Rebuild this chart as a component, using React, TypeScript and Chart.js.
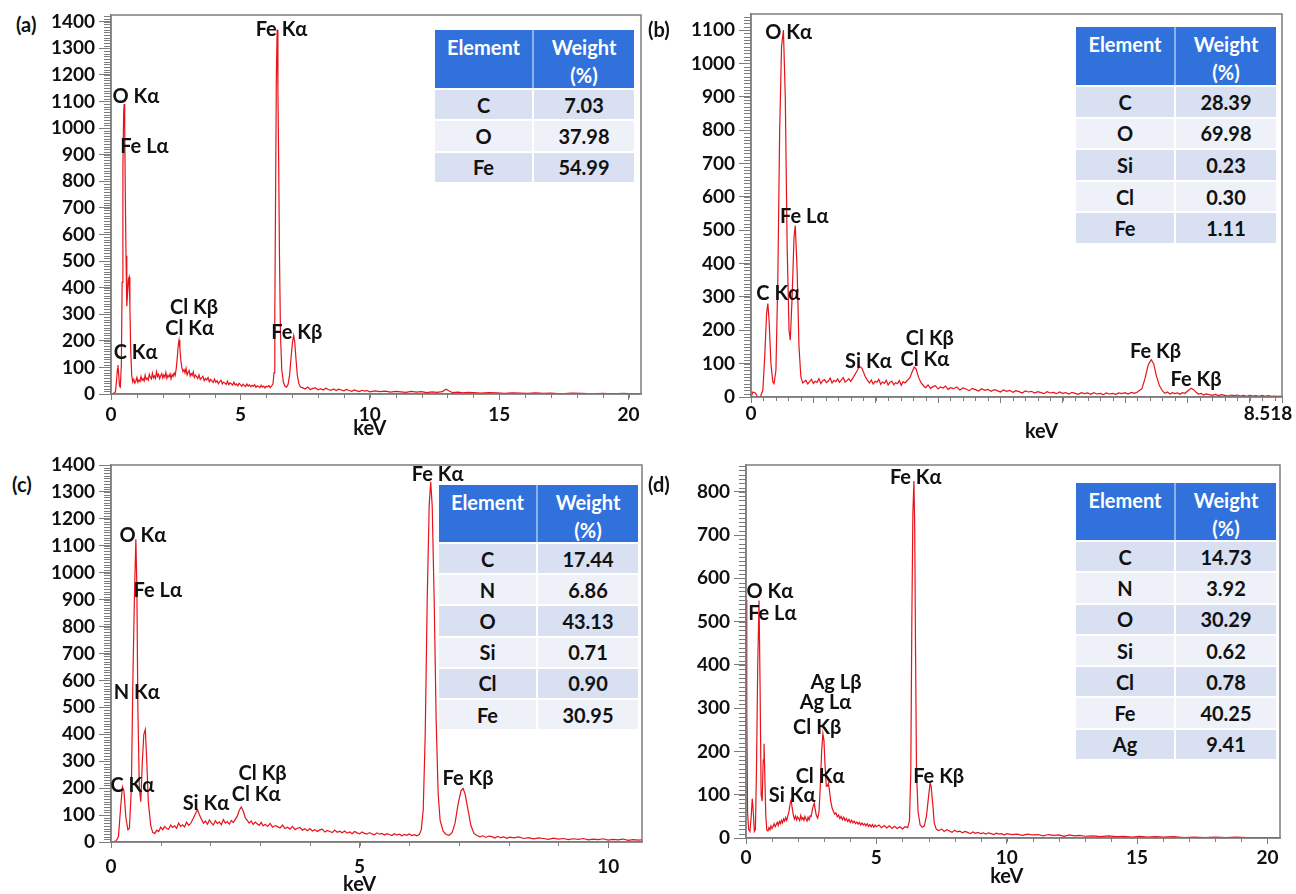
import React, { useEffect, useRef } from "react";
import { Chart, registerables } from "chart.js";

Chart.register(...registerables);

const FONT = "Lato, 'Open Sans', 'DejaVu Sans', sans-serif";
const LINE_RED = "#e8121a";
const AXIS_GRAY = "#7d7d7d";
const HEADER_BLUE = "#3171db";
const ROW_DARK = "#d9e0f1";
const ROW_LIGHT = "#eef1f8";

// ---------------- spectra (keV, counts) ----------------
const spectrumA: [number, number][] = [
  [0,0],[0.1,2],[0.17,8],[0.21,45],[0.25,95],[0.27,109],[0.3,70],[0.33,30],[0.36,26],[0.4,110],[0.43,420],[0.46,850],[0.49,1060],[0.51,1090],[0.53,1000],[0.55,780],[0.58,520],[0.61,330],[0.64,380],[0.67,430],[0.7,440],[0.73,330],[0.76,170],[0.8,70],[0.84,45],
  [0.88,55],[0.92,41],[0.96,48],[1.0,62],[1.04,44],[1.08,53],[1.12,47],[1.16,66],[1.2,51],[1.24,58],[1.28,49],[1.32,71],[1.36,55],[1.4,60],[1.44,52],[1.48,74],[1.52,63],[1.56,57],[1.6,78],[1.64,61],[1.68,68],[1.72,59],[1.76,84],[1.8,66],[1.84,74],[1.88,58],[1.92,69],[1.96,77],[2.0,60],[2.04,72],[2.08,63],[2.12,81],[2.16,59],[2.2,70],[2.24,64],[2.28,76],[2.32,57],[2.36,73],[2.4,66],[2.44,79],[2.48,70],
  [2.52,95],[2.56,135],[2.6,185],[2.63,203],[2.66,175],[2.7,125],
  [2.74,98],[2.78,84],[2.82,92],[2.86,79],[2.9,96],[2.94,72],[2.98,81],[3.02,88],[3.06,68],[3.1,77],[3.14,70],[3.18,83],[3.22,62],[3.26,71],[3.3,66],[3.35,58],[3.4,72],[3.45,55],[3.5,61],[3.55,67],[3.6,50],[3.65,58],[3.7,53],[3.75,62],[3.8,46],[3.85,55],[3.9,49],[3.95,43],[4.0,56],[4.05,44],[4.1,50],[4.15,39],[4.2,47],[4.25,52],[4.3,38],[4.35,45],[4.4,41],[4.45,36],[4.5,48],[4.55,35],[4.6,42],[4.65,39],[4.7,33],[4.75,44],[4.8,34],[4.85,38],[4.9,31],[4.95,40],[5.0,35],[5.05,29],[5.1,37],[5.15,32],[5.2,28],[5.25,38],[5.3,30],[5.35,34],[5.4,27],[5.45,33],[5.5,29],[5.55,35],[5.6,25],[5.65,31],[5.7,28],[5.75,24],[5.8,33],[5.85,26],[5.9,30],[5.95,23],[6.0,29],[6.05,27],[6.1,32],[6.15,24],[6.2,30],
  [6.26,38],[6.3,80],[6.33,300],[6.36,750],[6.39,1200],[6.42,1370],[6.45,1150],[6.48,860],[6.51,520],[6.55,220],[6.6,90],[6.66,45],[6.72,30],[6.78,26],[6.84,35],[6.9,70],[6.96,140],[7.02,200],[7.06,220],[7.1,195],[7.15,130],[7.2,70],[7.26,38],[7.32,26],
  [7.4,24],[7.5,19],[7.6,26],[7.7,17],[7.8,21],[7.9,23],[8.0,16],[8.1,20],[8.2,15],[8.3,22],[8.4,17],[8.5,14],[8.6,19],[8.7,13],[8.8,18],[8.9,15],[9.0,12],[9.1,17],[9.2,13],[9.3,10],[9.4,15],[9.5,12],[9.6,9],[9.7,14],[9.8,11],[9.9,13],[10.0,8],[10.2,12],[10.4,9],[10.6,11],[10.8,7],[11.0,10],[11.2,8],[11.4,6],[11.6,10],[11.8,7],[12.0,9],[12.2,5],[12.4,8],[12.6,6],[12.8,9],[12.95,18],[13.05,12],[13.2,5],[13.4,7],[13.6,4],[13.8,6],[14.0,5],[14.3,3],[14.6,5],[14.9,4],[15.2,2],[15.5,4],[15.8,3],[16.1,2],[16.4,4],[16.7,2],[17.0,3],[17.4,1],[17.8,3],[18.2,2],[18.6,1],[19.0,2],[19.4,1],[19.8,2],[20.2,1],[20.48,1],
];

const spectrumB: [number, number][] = [
  [0,0],[0.03,15],[0.07,12],[0.1,2],[0.15,0],[0.19,20],[0.22,120],[0.25,250],[0.27,280],[0.29,230],[0.32,100],[0.35,45],[0.37,40],[0.4,80],[0.43,350],[0.46,800],[0.49,1050],[0.52,1100],[0.55,900],[0.58,450],[0.61,200],[0.63,170],[0.66,300],[0.69,480],[0.71,514],[0.74,380],[0.77,150],[0.8,60],[0.83,42],
  [0.88,50],[0.91,39],[0.94,46],[0.97,53],[1.0,41],[1.03,47],[1.06,44],[1.09,55],[1.12,40],[1.15,49],[1.18,52],[1.21,43],[1.24,48],[1.27,57],[1.3,42],[1.33,50],[1.36,46],[1.39,54],[1.42,44],[1.45,51],[1.48,58],[1.51,45],[1.54,49],[1.57,55],[1.6,47],[1.65,62],[1.7,78],[1.74,92],[1.78,86],[1.83,62],[1.87,50],[1.9,42],[1.93,51],[1.96,39],[1.99,47],[2.02,44],[2.05,53],[2.08,38],[2.11,45],[2.14,41],[2.17,50],[2.2,36],[2.23,44],[2.26,47],[2.29,37],[2.32,43],[2.35,40],[2.38,49],[2.41,35],[2.44,46],[2.47,42],[2.5,48],[2.55,58],[2.59,78],[2.62,90],[2.65,84],[2.69,58],[2.73,42],
  [2.77,33],[2.8,28],[2.84,36],[2.88,26],[2.92,31],[2.96,34],[3.0,24],[3.04,30],[3.08,27],[3.12,33],[3.16,23],[3.2,28],[3.25,25],[3.3,30],[3.35,21],[3.4,27],[3.45,24],[3.5,19],[3.55,26],[3.6,22],[3.65,18],[3.7,25],[3.75,20],[3.8,23],[3.85,17],[3.9,22],[3.95,19],[4.0,15],[4.05,21],[4.1,17],[4.15,20],[4.2,14],[4.25,19],[4.3,16],[4.35,12],[4.4,18],[4.45,15],[4.5,17],[4.55,12],[4.6,16],[4.65,13],[4.7,10],[4.75,16],[4.8,12],[4.85,14],[4.9,10],[4.95,15],[5.0,11],[5.05,13],[5.1,9],[5.15,14],[5.2,11],[5.25,8],[5.3,13],[5.35,10],[5.4,12],[5.45,8],[5.5,13],[5.55,9],[5.6,11],[5.65,7],[5.7,12],[5.75,9],[5.8,11],[5.85,8],[5.9,12],[5.95,10],[6.0,13],[6.05,9],[6.1,14],[6.15,11],[6.2,15],
  [6.27,25],[6.32,55],[6.37,95],[6.42,112],[6.46,100],[6.5,65],[6.55,35],
  [6.6,18],[6.64,11],[6.68,15],[6.72,9],[6.76,13],[6.8,10],[6.84,12],[6.88,8],[6.92,13],[6.96,11],[7.0,17],[7.06,26],[7.1,22],[7.14,14],[7.18,9],[7.22,11],[7.26,6],[7.3,9],[7.35,7],[7.4,5],[7.45,8],[7.5,4],[7.55,7],[7.6,5],[7.65,3],[7.7,6],[7.75,4],[7.8,6],[7.85,3],[7.9,5],[7.95,2],[8.0,5],[8.05,3],[8.1,4],[8.15,2],[8.2,5],[8.25,2],[8.3,4],[8.35,2],[8.4,3],[8.45,2],[8.518,3],
];

const spectrumC: [number, number][] = [
  [0,0],[0.1,3],[0.15,20],[0.19,120],[0.23,205],[0.26,190],[0.3,90],[0.34,45],[0.37,50],[0.41,200],[0.44,600],[0.47,900],[0.5,1124],[0.52,950],[0.54,500],[0.57,200],[0.6,150],[0.63,300],[0.66,400],[0.69,418],[0.72,300],[0.75,150],[0.8,60],[0.84,35],
  [0.88,32],[0.92,44],[0.96,39],[1.0,55],[1.04,46],[1.08,58],[1.12,50],[1.16,47],[1.2,63],[1.24,54],[1.28,60],[1.32,51],[1.36,70],[1.4,58],[1.44,64],[1.48,56],[1.52,74],[1.56,62],[1.6,68],[1.65,86],[1.7,106],[1.74,120],[1.78,100],[1.82,84],[1.86,70],[1.9,78],[1.94,66],[1.98,82],[2.02,71],[2.06,63],[2.1,79],[2.14,68],[2.18,75],[2.22,64],[2.26,83],[2.3,70],[2.34,76],[2.38,66],[2.42,80],[2.46,72],[2.5,84],[2.54,96],[2.58,118],[2.62,130],[2.66,115],[2.7,90],
  [2.74,80],[2.78,70],[2.82,78],[2.86,65],[2.9,74],[2.94,68],[2.98,62],[3.02,73],[3.06,60],[3.1,66],[3.15,58],[3.2,69],[3.25,55],[3.3,61],[3.35,57],[3.4,52],[3.45,63],[3.5,50],[3.55,55],[3.6,48],[3.65,58],[3.7,46],[3.75,51],[3.8,54],[3.85,44],[3.9,49],[3.95,42],[4.0,50],[4.05,41],[4.1,46],[4.15,39],[4.2,45],[4.25,48],[4.3,37],[4.35,43],[4.4,39],[4.45,35],[4.5,44],[4.55,36],[4.6,40],[4.65,34],[4.7,41],[4.75,33],[4.8,37],[4.85,31],[4.9,39],[4.95,34],[5.0,30],[5.05,37],[5.1,32],[5.15,29],[5.2,35],[5.25,30],[5.3,27],[5.35,34],[5.4,29],[5.45,32],[5.5,26],[5.55,31],[5.6,28],[5.65,24],[5.7,31],[5.75,26],[5.8,29],[5.85,23],[5.9,28],[5.95,25],[6.0,30],[6.05,24],[6.1,27],[6.15,23],[6.2,28],
  [6.24,45],[6.28,120],[6.32,400],[6.36,900],[6.4,1250],[6.43,1338],[6.46,1250],[6.5,900],[6.54,450],[6.58,180],[6.62,80],[6.68,40],[6.74,28],[6.8,25],[6.86,35],[6.92,70],[6.98,140],[7.04,190],[7.08,199],[7.12,180],[7.18,120],[7.24,60],[7.3,32],
  [7.36,24],[7.42,19],[7.48,23],[7.54,17],[7.6,22],[7.66,20],[7.72,15],[7.78,21],[7.84,16],[7.9,19],[7.96,14],[8.02,18],[8.1,15],[8.2,19],[8.3,13],[8.4,16],[8.5,12],[8.6,15],[8.7,13],[8.8,10],[8.9,14],[9.0,11],[9.1,13],[9.2,9],[9.3,12],[9.4,10],[9.5,13],[9.6,8],[9.7,11],[9.8,9],[9.9,12],[10.0,7],[10.1,10],[10.2,8],[10.3,11],[10.4,6],[10.5,9],[10.6,7],[10.68,8],
];

const spectrumD: [number, number][] = [
  [0,550],[0.03,300],[0.06,60],[0.1,20],[0.15,15],[0.2,50],[0.24,91],[0.28,60],[0.32,15],[0.36,20],[0.4,150],[0.45,400],[0.5,549],[0.54,350],[0.58,100],[0.62,85],[0.66,180],[0.69,218],[0.72,150],[0.76,50],[0.8,18],
  [0.84,16],[0.88,24],[0.92,19],[0.96,28],[1.0,22],[1.04,27],[1.08,33],[1.12,26],[1.16,31],[1.2,36],[1.24,29],[1.28,38],[1.32,33],[1.36,41],[1.4,35],[1.44,44],[1.48,39],[1.52,47],[1.56,41],[1.6,50],[1.65,62],[1.7,82],[1.73,88],[1.77,70],[1.82,52],[1.86,44],[1.9,51],[1.94,42],[1.98,49],[2.02,45],[2.06,40],[2.1,52],[2.14,43],[2.18,47],[2.22,41],[2.26,50],[2.3,44],[2.34,39],[2.38,48],[2.42,42],[2.46,51],[2.5,50],[2.54,64],[2.58,74],[2.62,80],[2.66,64],[2.7,52],[2.75,46],
  [2.8,60],[2.85,120],[2.9,200],[2.95,241],[2.99,225],[3.03,170],[3.08,120],[3.12,120],[3.16,126],[3.2,110],[3.25,85],[3.3,70],
  [3.35,62],[3.4,55],[3.45,58],[3.5,49],[3.55,53],[3.6,45],[3.65,50],[3.7,42],[3.75,48],[3.8,40],[3.85,45],[3.9,38],[3.95,43],[4.0,36],[4.05,41],[4.1,35],[4.15,39],[4.2,33],[4.25,37],[4.3,32],[4.35,36],[4.4,30],[4.45,35],[4.5,30],[4.55,33],[4.6,28],[4.65,33],[4.7,27],[4.75,31],[4.8,26],[4.85,31],[4.9,25],[4.95,30],[5.0,26],[5.1,30],[5.2,24],[5.3,29],[5.4,23],[5.5,28],[5.6,22],[5.7,27],[5.8,22],[5.9,26],[6.0,21],[6.1,26],[6.2,24],
  [6.27,40],[6.32,150],[6.36,500],[6.4,750],[6.44,825],[6.47,720],[6.5,450],[6.54,150],[6.6,60],[6.68,30],[6.76,25],[6.84,28],[6.92,50],[7.0,95],[7.06,126],[7.1,120],[7.16,80],[7.22,35],
  [7.3,20],[7.4,17],[7.5,21],[7.6,15],[7.7,19],[7.8,16],[7.9,13],[8.0,18],[8.1,14],[8.2,16],[8.3,12],[8.4,15],[8.5,13],[8.6,10],[8.7,14],[8.8,11],[8.9,13],[9.0,10],[9.1,12],[9.2,9],[9.3,12],[9.4,10],[9.5,8],[9.6,11],[9.7,9],[9.8,10],[9.9,7],[10.0,10],[10.2,8],[10.4,9],[10.6,6],[10.8,9],[11.0,7],[11.2,8],[11.4,5],[11.6,8],[11.8,6],[12.0,7],[12.2,4],[12.4,7],[12.6,5],[12.8,6],[13.0,4],[13.3,5],[13.6,3],[13.9,5],[14.2,3],[14.5,4],[14.8,2],[15.1,4],[15.4,2],[15.7,3],[16.0,2],[16.4,3],[16.8,1],[17.2,2],[17.6,1],[18.0,2],[18.4,1],[18.8,2],[19.2,1],[19.6,1],[20.0,1],[20.48,1],
];

// ---------------- peak labels (anchor in keV, counts) ----------------
const peakLabelsA = [
  { text: "Fe Kα", x: 6.59, y: 1372 },
  { text: "O Kα", x: 0.96, y: 1118 },
  { text: "Fe Lα", x: 1.29, y: 930 },
  { text: "Cl Kβ", x: 3.21, y: 324 },
  { text: "Cl Kα", x: 3.04, y: 247 },
  { text: "Fe Kβ", x: 7.18, y: 232 },
  { text: "C Kα", x: 0.95, y: 154 },
];
const peakLabelsB = [
  { text: "O Kα", x: 0.605, y: 1091 },
  { text: "Fe Lα", x: 0.854, y: 541 },
  { text: "C Kα", x: 0.437, y: 309 },
  { text: "Si Kα", x: 1.883, y: 107 },
  { text: "Cl Kβ", x: 2.87, y: 175 },
  { text: "Cl Kα", x: 2.79, y: 112 },
  { text: "Fe Kβ", x: 6.49, y: 135 },
  { text: "Fe Kβ", x: 7.14, y: 53 },
];
const peakLabelsC = [
  { text: "Fe Kα", x: 6.57, y: 1366 },
  { text: "O Kα", x: 0.64, y: 1139 },
  { text: "Fe Lα", x: 0.94, y: 932 },
  { text: "N Kα", x: 0.52, y: 556 },
  { text: "C Kα", x: 0.43, y: 211 },
  { text: "Si Kα", x: 1.91, y: 143 },
  { text: "Cl Kβ", x: 3.05, y: 255 },
  { text: "Cl Kα", x: 2.92, y: 176 },
  { text: "Fe Kβ", x: 7.18, y: 234 },
];
const peakLabelsD = [
  { text: "Fe Kα", x: 6.51, y: 833 },
  { text: "O Kα", x: 0.92, y: 569 },
  { text: "Fe Lα", x: 1.01, y: 519 },
  { text: "Ag Lβ", x: 3.45, y: 359 },
  { text: "Ag Lα", x: 3.05, y: 313 },
  { text: "Cl Kβ", x: 2.73, y: 255 },
  { text: "Cl Kα", x: 2.84, y: 143 },
  { text: "Si Kα", x: 1.77, y: 99 },
  { text: "Fe Kβ", x: 7.39, y: 143 },
];

// ---------------- tick values ----------------
const xTicksA = [0, 5, 10, 15, 20];
const xTicksB = [0, 1, 2, 3, 4, 5, 6, 7, 8];
const xTickLabelsB = [0, 8.518];
const xTicksC = [0, 5, 10];
const xTicksD = [0, 5, 10, 15, 20];
const yTicksA = [0, 100, 200, 300, 400, 500, 600, 700, 800, 900, 1000, 1100, 1200, 1300, 1400];
const yTicksB = [0, 100, 200, 300, 400, 500, 600, 700, 800, 900, 1000, 1100];
const yTicksC = [0, 100, 200, 300, 400, 500, 600, 700, 800, 900, 1000, 1100, 1200, 1300, 1400];
const yTicksD = [0, 100, 200, 300, 400, 500, 600, 700, 800];

// ---------------- composition tables ----------------
const elementsA = ["C", "O", "Fe"];
const weightsA = ["7.03", "37.98", "54.99"];
const elementsB = ["C", "O", "Si", "Cl", "Fe"];
const weightsB = ["28.39", "69.98", "0.23", "0.30", "1.11"];
const elementsC = ["C", "N", "O", "Si", "Cl", "Fe"];
const weightsC = ["17.44", "6.86", "43.13", "0.71", "0.90", "30.95"];
const elementsD = ["C", "N", "O", "Si", "Cl", "Fe", "Ag"];
const weightsD = ["14.73", "3.92", "30.29", "0.62", "0.78", "40.25", "9.41"];

// ---------------- layout ----------------
const Y_W = 70;
const PAD_T = 12;
const PAD_R = 14;
const X_H = 58;

const panels = [
  {
    tag: "(a)", tagPos: { left: 16, top: 12 },
    spectrum: spectrumA, labels: peakLabelsA,
    xMax: 20.48, yMax: 1425, xTicks: xTicksA, yTicks: yTicksA, builtinXLabels: true, customXLabels: [] as any[],
    xMinor: 1, yMinor: 10, titleX: 10, titleDy: 35, xPad: 3,
    box: { l: 111, t: 15, r: 641, b: 394 },
    table: { elements: elementsA, weights: weightsA, left: 435, top: 30, width: 199, split: 99, headerH: 58, rowH: 31.3 },
  },
  {
    tag: "(b)", tagPos: { left: 648, top: 17 },
    spectrum: spectrumB, labels: peakLabelsB,
    xMax: 8.518, yMax: 1148, xTicks: xTicksB.concat([8.518]), yTicks: yTicksB, builtinXLabels: false,
    customXLabels: xTickLabelsB.map((v, i) => ({ v, text: String(v), dx: i === 1 ? -14 : 0 })),
    xMinor: 0.2, yMinor: 10, titleX: 4.66, titleDy: 35, xPad: 3,
    box: { l: 751, t: 14, r: 1282, b: 397 },
    table: { elements: elementsB, weights: weightsB, left: 1076, top: 27, width: 200, split: 100, headerH: 58, rowH: 31.6 },
  },
  {
    tag: "(c)", tagPos: { left: 12, top: 472 },
    spectrum: spectrumC, labels: peakLabelsC,
    xMax: 10.68, yMax: 1400, xTicks: xTicksC, yTicks: yTicksC, builtinXLabels: true, customXLabels: [] as any[],
    xMinor: 1, yMinor: 10, titleX: 5, titleDy: 43, xPad: 7,
    box: { l: 111, t: 465, r: 642, b: 842 },
    table: { elements: elementsC, weights: weightsC, left: 439, top: 485, width: 199, split: 99, headerH: 57, rowH: 31.2 },
  },
  {
    tag: "(d)", tagPos: { left: 648, top: 472 },
    spectrum: spectrumD, labels: peakLabelsD,
    xMax: 20.48, yMax: 862, xTicks: xTicksD, yTicks: yTicksD, builtinXLabels: true, customXLabels: [] as any[],
    xMinor: 1, yMinor: 10, titleX: 10, titleDy: 39, xPad: 2,
    box: { l: 746, t: 465, r: 1280, b: 838 },
    table: { elements: elementsD, weights: weightsD, left: 1076, top: 483, width: 200, split: 100, headerH: 57, rowH: 31.3 },
  },
];

function makeDecor(p: any) {
  return {
    id: "decor",
    afterDraw(chart: any) {
      const { ctx, chartArea } = chart;
      const { left, right, top, bottom } = chartArea;
      const xs = chart.scales.x;
      const ys = chart.scales.y;
      ctx.save();
      // minor ticks
      ctx.strokeStyle = AXIS_GRAY;
      ctx.lineWidth = 1;
      ctx.beginPath();
      const ny = Math.floor(p.yMax / p.yMinor + 1e-6);
      for (let i = 0; i <= ny; i++) {
        const py = Math.round(ys.getPixelForValue(i * p.yMinor)) + 0.5;
        ctx.moveTo(left - 7, py);
        ctx.lineTo(left, py);
      }
      const nx = Math.floor(p.xMax / p.xMinor + 1e-6);
      for (let i = 0; i <= nx; i++) {
        const px = Math.round(xs.getPixelForValue(i * p.xMinor)) + 0.5;
        ctx.moveTo(px, bottom);
        ctx.lineTo(px, bottom + 4);
      }
      ctx.stroke();
      // frame
      ctx.lineWidth = 1.5;
      ctx.strokeRect(left, top, right - left, bottom - top);
      // peak labels
      ctx.fillStyle = "#111";
      ctx.font = `bold 20px ${FONT}`;
      ctx.textAlign = "center";
      ctx.textBaseline = "middle";
      for (const l of p.labels) {
        ctx.fillText(l.text, xs.getPixelForValue(l.x), ys.getPixelForValue(l.y));
      }
      // custom tick labels
      ctx.font = `bold 19px ${FONT}`;
      for (const c of p.customXLabels) {
        ctx.fillText(c.text, xs.getPixelForValue(c.v) + c.dx, bottom + 17);
      }
      // axis title
      ctx.font = `bold 20px ${FONT}`;
      ctx.fillText("keV", xs.getPixelForValue(p.titleX), bottom + p.titleDy);
      ctx.restore();
    },
  };
}

function SpectrumPanel({ p }: { p: any }) {
  const ref = useRef<HTMLCanvasElement>(null);
  const w = p.box.r - p.box.l + Y_W + PAD_R;
  const h = p.box.b - p.box.t + PAD_T + X_H;
  useEffect(() => {
    const tickFont = { family: FONT, size: 19, weight: "bold" as const };
    const chart = new Chart(ref.current as HTMLCanvasElement, {
      type: "line",
      data: {
        datasets: [
          {
            data: p.spectrum.map(([x, y]: [number, number]) => ({ x, y })),
            borderColor: LINE_RED,
            borderWidth: 1.2,
            pointRadius: 0,
            tension: 0,
            fill: false,
          },
        ],
      },
      options: {
        animation: false,
        responsive: false,
        maintainAspectRatio: false,
        devicePixelRatio: 1,
        layout: { padding: { top: PAD_T, right: PAD_R, left: 0, bottom: 0 } },
        plugins: { legend: { display: false }, tooltip: { enabled: false } },
        scales: {
          x: {
            type: "linear",
            min: 0,
            max: p.xMax,
            afterBuildTicks: (s: any) => {
              s.ticks = p.xTicks.map((v: number) => ({ value: v }));
            },
            afterFit: (s: any) => {
              s.height = X_H;
              s.paddingLeft = 0;
              s.paddingRight = 0;
            },
            ticks: {
              autoSkip: false,
              maxRotation: 0,
              padding: p.xPad,
              font: tickFont,
              color: "#111",
              callback: (v: any) => (p.builtinXLabels ? String(v) : ""),
            },
            grid: { drawOnChartArea: false, drawTicks: true, tickLength: 6, color: AXIS_GRAY },
            border: { display: true, color: AXIS_GRAY, width: 1.5 },
          },
          y: {
            type: "linear",
            min: 0,
            max: p.yMax,
            afterBuildTicks: (s: any) => {
              s.ticks = p.yTicks.map((v: number) => ({ value: v }));
            },
            afterFit: (s: any) => {
              s.width = Y_W;
              s.paddingTop = 0;
              s.paddingBottom = 0;
            },
            ticks: {
              autoSkip: false,
              padding: 4,
              font: tickFont,
              color: "#111",
              callback: (v: any) => String(v),
            },
            grid: { drawOnChartArea: false, drawTicks: true, tickLength: 12, color: AXIS_GRAY },
            border: { display: true, color: AXIS_GRAY, width: 1.5 },
          },
        },
      },
      plugins: [makeDecor(p)],
    } as any);
    return () => chart.destroy();
  }, []);
  return (
    <canvas
      ref={ref}
      width={w}
      height={h}
      style={{ position: "absolute", left: p.box.l - Y_W, top: p.box.t - PAD_T, width: w, height: h }}
    />
  );
}

function WeightTable({ t }: { t: any }) {
  const cell: React.CSSProperties = { display: "flex", alignItems: "center", justifyContent: "center", boxSizing: "border-box" };
  return (
    <div style={{ position: "absolute", left: t.left, top: t.top, width: t.width, fontFamily: FONT, fontWeight: 700, fontSize: 20 }}>
      <div style={{ display: "flex", height: t.headerH, background: HEADER_BLUE, color: "#fff", lineHeight: "28px", textAlign: "center" }}>
        <div style={{ width: t.split, paddingTop: 3, borderRight: "2px solid #8eb0ec", boxSizing: "border-box" }}>Element</div>
        <div style={{ flex: 1, paddingTop: 3 }}>
          Weight
          <br />
          (%)
        </div>
      </div>
      {t.elements.map((el: string, i: number) => (
        <div
          key={el}
          style={{
            display: "flex",
            height: t.rowH,
            borderTop: "2px solid #fff",
            boxSizing: "border-box",
            background: i % 2 === 0 ? ROW_DARK : ROW_LIGHT,
            color: "#111",
          }}
        >
          <div style={{ ...cell, width: t.split, borderRight: "2px solid #fff" }}>{el}</div>
          <div style={{ ...cell, flex: 1 }}>{t.weights[i]}</div>
        </div>
      ))}
    </div>
  );
}

export default function App() {
  return (
    <div style={{ position: "absolute", left: 0, top: 0, width: 1296, height: 894, overflow: "hidden", background: "#fff" }}>
      {panels.map((p) => (
        <React.Fragment key={p.tag}>
          <SpectrumPanel p={p} />
          <WeightTable t={p.table} />
          <div
            style={{
              position: "absolute",
              left: p.tagPos.left,
              top: p.tagPos.top,
              fontFamily: FONT,
              fontWeight: 700,
              fontSize: 20,
              lineHeight: "24px",
              color: "#111",
            }}
          >
            {p.tag}
          </div>
        </React.Fragment>
      ))}
    </div>
  );
}
